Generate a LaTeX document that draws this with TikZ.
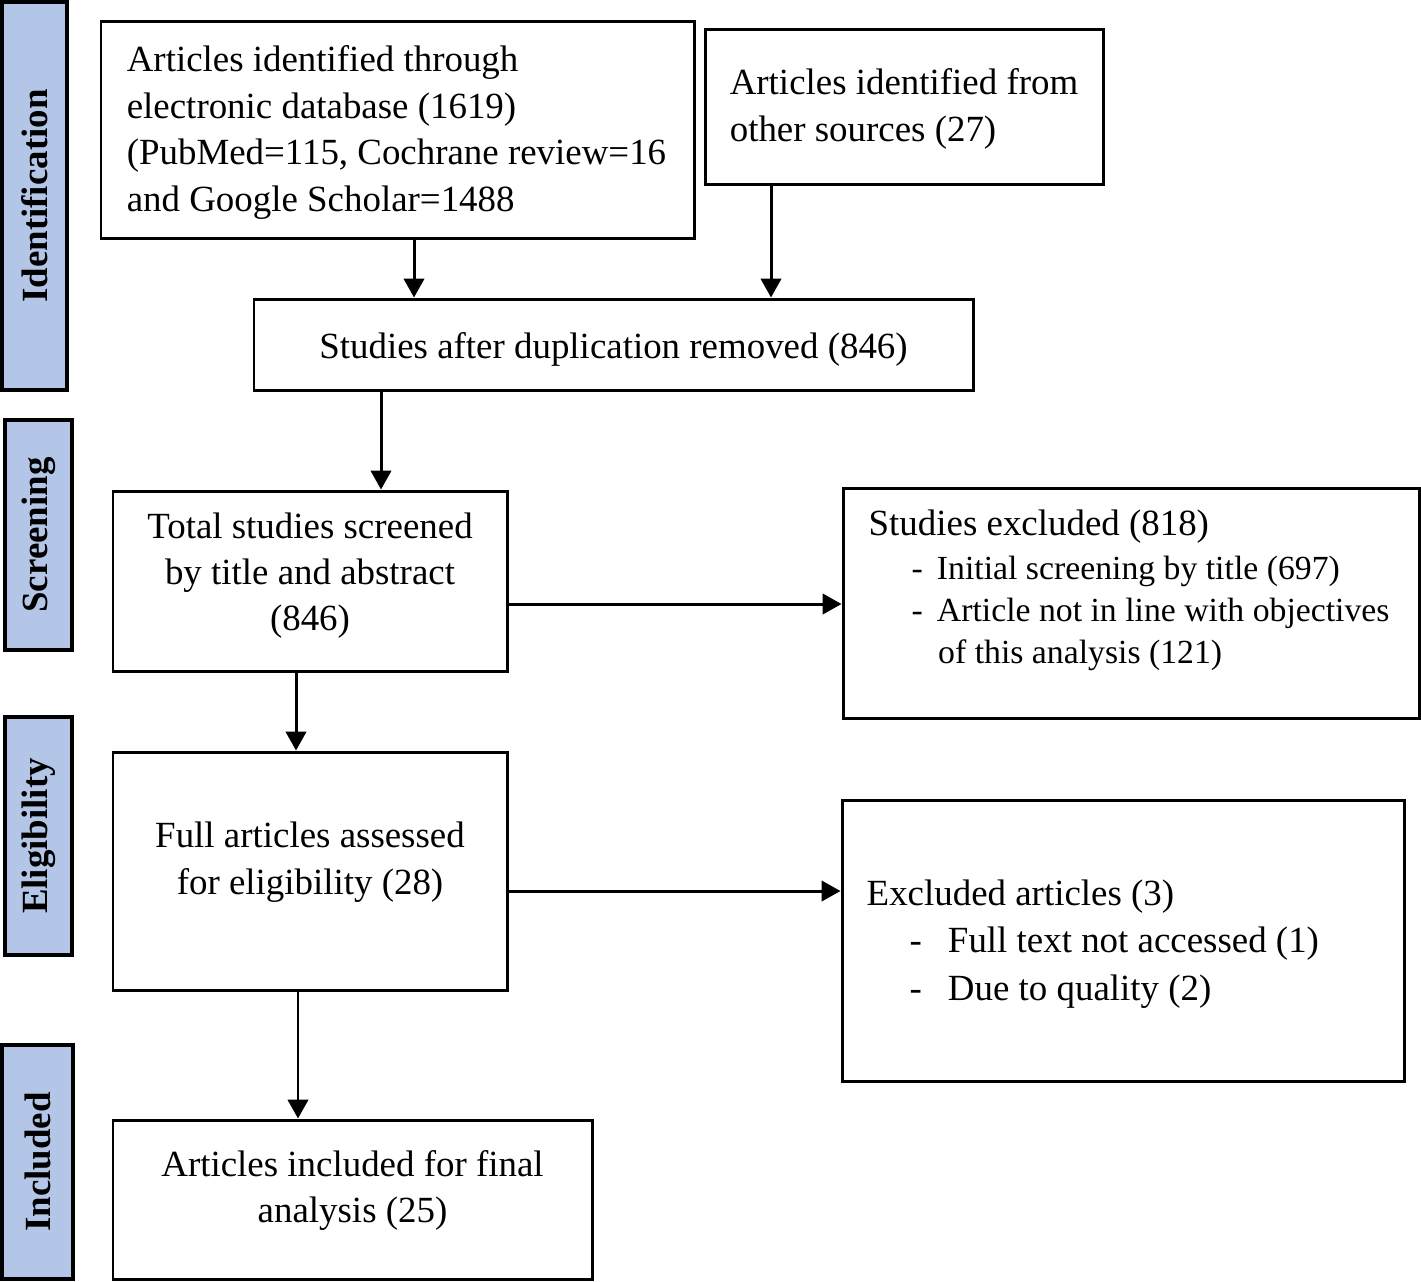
\documentclass[tikz,border=0pt]{standalone}
\usepackage{fontspec}
\setmainfont{Liberation Serif}
\usetikzlibrary{arrows.meta}

\definecolor{stagefill}{HTML}{B4C6E7}
\tikzset{
	box/.style={draw,line width=0.85pt,inner sep=0pt},
	txt/.style={inner sep=0pt,font=\fontsize{10.5}{13.2}\selectfont},
	stage/.style={draw,line width=1.1pt,fill=stagefill,rotate=90,inner sep=0pt,
		font=\fontsize{10.5}{12}\selectfont\bfseries},
	arr/.style={line width=0.85pt,-{Triangle[length=5.4pt,width=5.8pt]}}
}
\newcommand{\dashitem}[2]{\hspace*{#1}-\hspace*{#2}}

\begin{document}
\begin{tikzpicture}
	\useasboundingbox (0,0) rectangle (14.21,-12.81);
	% stage labels on the left
	\node[stage,minimum width=3.88cm,minimum height=0.65cm] (ident) at (0.345,-1.96) {Identification};
	\node[stage,minimum width=2.30cm,minimum height=0.67cm] (screen) at (0.385,-5.35) {Screening};
	\node[stage,minimum width=2.38cm,minimum height=0.67cm] (elig) at (0.385,-8.36) {Eligibility};
	\node[stage,minimum width=2.34cm,minimum height=0.71cm] (incl) at (0.375,-11.62) {Included};

	% boxes
	\node[box,minimum width=5.93cm,minimum height=2.17cm] (elec) at (3.975,-1.295) {};
	\node[box,minimum width=3.98cm,minimum height=1.55cm] (other) at (9.04,-1.065) {};
	\node[box,minimum width=7.19cm,minimum height=0.91cm] (dup) at (6.135,-3.445) {};
	\node[box,minimum width=3.94cm,minimum height=1.80cm] (screened) at (3.10,-5.81) {};
	\node[box,minimum width=5.76cm,minimum height=2.30cm] (excla) at (11.31,-6.03) {};
	\node[box,minimum width=3.94cm,minimum height=2.38cm] (full) at (3.10,-8.71) {};
	\node[box,minimum width=5.62cm,minimum height=2.81cm] (exclb) at (11.23,-9.405) {};
	\node[box,minimum width=4.79cm,minimum height=1.59cm] (final) at (3.525,-11.995) {};

	% texts
	\node[txt,align=left] (elecT) at (3.965,-1.325) {Articles identified through\\electronic database (1619)\\(PubMed=115, Cochrane review=16\\and Google Scholar=1488};
	\node[txt,align=left] (otherT) at (9.04,-1.09) {Articles identified from\\other sources (27)};
	\node[txt] (dupT) at (6.135,-3.49) {Studies after duplication removed (846)};
	\node[txt,align=center] (screenedT) at (3.10,-5.755) {Total studies screened\\by title and abstract\\(846)};
	\node[txt,align=left,anchor=west] (exclaT) at (8.68,-5.905) {Studies excluded (818)\\[-0.6pt]
		{\fontsize{9.6}{12}\selectfont\dashitem{0.43cm}{0.14cm}Initial screening by title (697)}\\[-1.2pt]
		{\fontsize{9.6}{12}\selectfont\dashitem{0.43cm}{0.14cm}Article not in line with objectives}\\[-1.2pt]
		{\fontsize{9.6}{12}\selectfont\hspace*{0.695cm}of this analysis (121)}};
	\node[txt,align=center] (fullT) at (3.10,-8.62) {Full articles assessed\\for eligibility (28)};
	\node[txt,align=left,anchor=west] (exclbT) at (8.66,-9.44) {Excluded articles (3)\\[0.4pt]
		\dashitem{0.43cm}{0.26cm}Full text not accessed (1)\\[0.4pt]
		\dashitem{0.43cm}{0.26cm}Due to quality (2)};
	\node[txt,align=center] (finalT) at (3.525,-11.905) {Articles included for final\\analysis (25)};

	% arrows
	\coordinate (xa) at (4.14,0);
	\coordinate (xb) at (7.71,0);
	\coordinate (xc) at (3.81,0);
	\coordinate (xd) at (2.96,0);
	\coordinate (xe) at (2.98,0);
	\coordinate (ya) at (0,-6.04);
	\coordinate (yb) at (0,-8.91);
	\draw[arr] (elec.south -| xa) -- (dup.north -| xa);
	\draw[arr] (other.south -| xb) -- (dup.north -| xb);
	\draw[arr] (dup.south -| xc) -- (screened.north -| xc);
	\draw[arr] (screened.east |- ya) -- (excla.west |- ya);
	\draw[arr] (screened.south -| xd) -- (full.north -| xd);
	\draw[arr] (full.east |- yb) -- (exclb.west |- yb);
	\draw[arr] (full.south -| xe) -- (final.north -| xe);
\end{tikzpicture}
\end{document}
